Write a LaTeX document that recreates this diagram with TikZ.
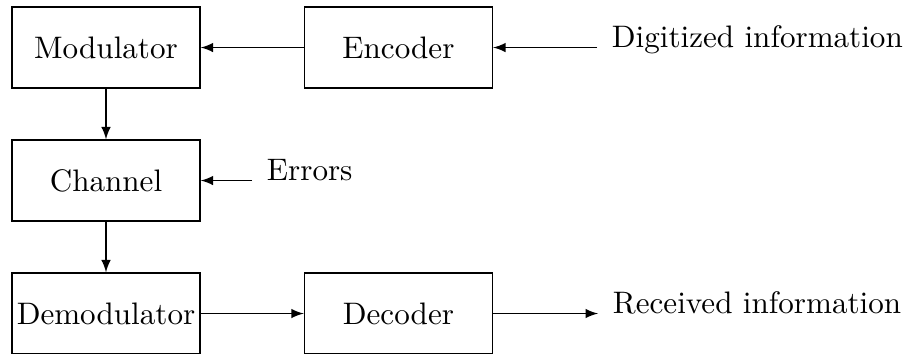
\documentclass[tikz,border=0pt]{standalone}
\usepackage{tikz}
\usetikzlibrary{positioning}

\begin{document}
\begin{tikzpicture}[
    blockbox/.style={draw, minimum width=2.125cm, minimum height=0.915cm, inner sep=1pt},
    sidelabel/.style={anchor=base west, inner sep=0pt, xshift=4.6pt},
    flow/.style={->, >=latex}]
				\useasboundingbox (0,0) rectangle (10.25,-4.0);
				
				% Blocks
				\node[blockbox] (mod) at (1.198,-0.537) {Modulator};
				\node[blockbox] (enc) at (4.503,-0.537) {Encoder};
				\node[blockbox] (chan) at (1.198,-2.040) {Channel};
				\node[blockbox] (demod) at (1.198,-3.543) {Demodulator};
				\node[blockbox] (dec) at (4.503,-3.543) {Decoder};
				
				% Outside ends
				\coordinate (din) at (6.747,-0.537);
				\coordinate (err) at (2.848,-2.040);
				\coordinate (dout) at (6.758,-3.543);
				\node[sidelabel] (dinlbl) at (din) {Digitized information};
				\node[sidelabel] (errlbl) at (err) {Errors};
				\node[sidelabel] (doutlbl) at (dout) {Received information};
				
				% Arrows
				\draw[flow] (din) -- (enc);
				\draw[flow] (enc) -- (mod);
				\draw[flow] (mod) -- (chan);
				\draw[flow] (err) -- (chan);
				\draw[flow] (chan) -- (demod);
				\draw[flow] (demod) -- (dec);
				\draw[flow] (dec) -- (dout);
			\end{tikzpicture}
\end{document}
